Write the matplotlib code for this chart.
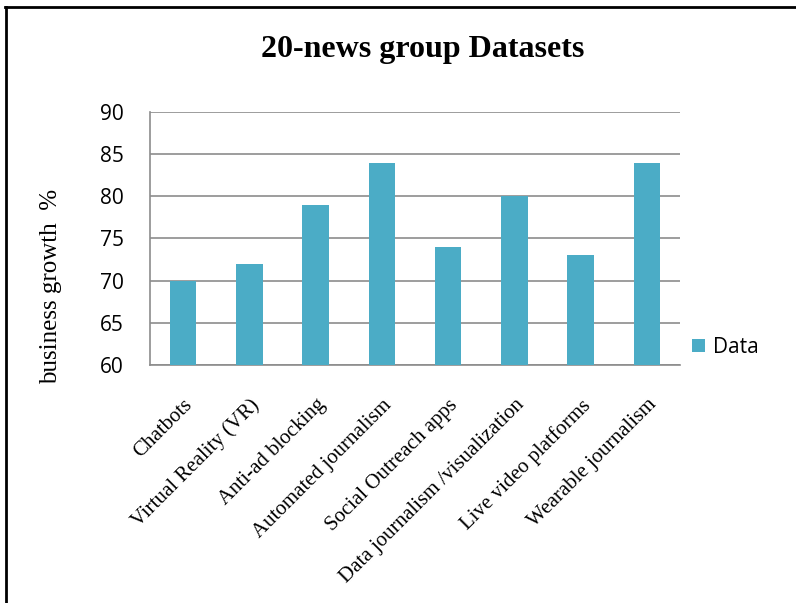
import matplotlib.pyplot as plt
from matplotlib.lines import Line2D
import numpy as np

# --- dati ---
categories = [
    "Chatbots",
    "Virtual Reality (VR)",
    "Anti-ad blocking",
    "Automated journalism",
    "Social Outreach apps",
    "Data journalism /visualization",
    "Live video platforms",
    "Wearable journalism",
]
values = [70, 72, 79, 84, 74, 80, 73, 84]
yticks = [60, 65, 70, 75, 80, 85, 90]

C_BAR = "#4BACC6"
C_GRID = "#8C8C8C"

fig = plt.figure(figsize=(7.96, 6.03), dpi=100)
ax = fig.add_axes([0.1884, 0.3947, 0.666, 0.4196])

x = np.arange(len(categories))
ax.bar(x, values, width=0.4, color=C_BAR, label="Data", zorder=3)

ax.set_xlim(-0.5, len(categories) - 0.5)
ax.set_ylim(60, 90)
ax.set_yticks(yticks)
ax.set_yticklabels([str(v) for v in yticks], fontsize=15, family="Open Sans")
ax.grid(True, axis="y", color=C_GRID, linewidth=1.2, zorder=0)

ax.set_xticks(x)
ax.set_xticklabels(categories, rotation=45, ha="right", va="top",
                   rotation_mode="anchor", fontsize=15, family="Liberation Serif")
ax.tick_params(axis="x", length=0, pad=22)
ax.tick_params(axis="y", length=0, pad=19)

for side in ("top", "right"):
    ax.spines[side].set_visible(False)
for side in ("left", "bottom"):
    ax.spines[side].set_color(C_GRID)
    ax.spines[side].set_linewidth(1.2)

# --- etichette ---
fig.text(51 / 796, 1 - 286 / 603, "business growth  %", rotation=90,
         ha="center", va="center", fontsize=18, family="Liberation Serif")

fig.text(423 / 796, 1 - 50 / 603, "20-news group Datasets", ha="center", va="center",
         fontsize=23, fontweight="bold", family="Liberation Serif")

leg = ax.legend(loc="center left", bbox_to_anchor=(1.0, 0.07), frameon=False,
                handlelength=0.65, handleheight=0.65, handletextpad=0.4,
                borderaxespad=0.15, prop={"family": "Open Sans", "size": 15})

# --- cornice ---
fig.add_artist(Line2D([0.007, 0.007], [0.0, 0.988], color="black", linewidth=2,
                      transform=fig.transFigure))
fig.add_artist(Line2D([0.006, 1.0], [0.988, 0.988], color="black", linewidth=2,
                      transform=fig.transFigure))

fig.savefig("out.png", dpi=100)
